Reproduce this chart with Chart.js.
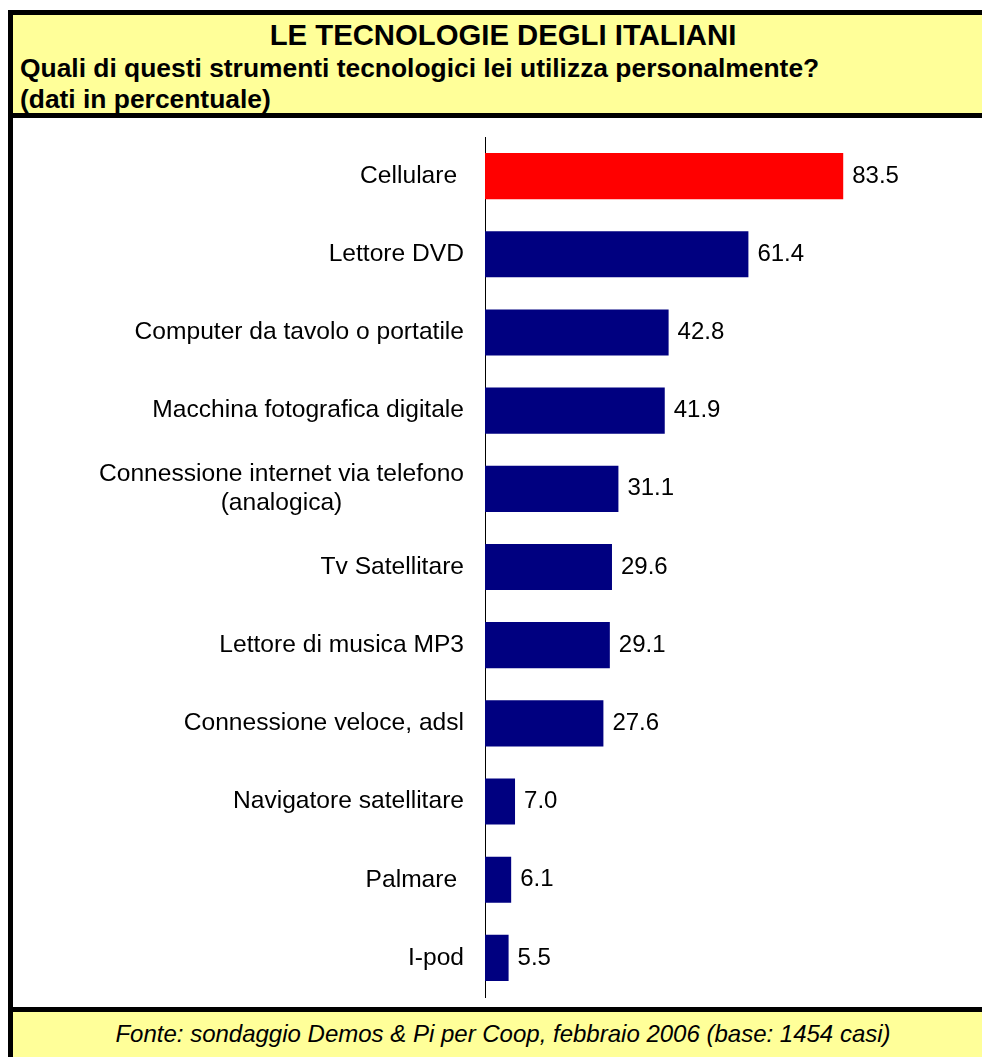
<!DOCTYPE html>
<html>
<head>
<meta charset="utf-8">
<script src="https://cdn.jsdelivr.net/npm/chart.js@4"></script>
<style>
  html, body { margin: 0; padding: 0; background: #ffffff; }
  body { width: 982px; height: 1057px; position: relative; overflow: hidden; font-family: "Liberation Sans", Arial, sans-serif; }
  #header { position: absolute; left: 8px; top: 10px; width: 990px; height: 98px; background: #FFFF99; border: 5px solid #000; }
  #title { position: absolute; left: 0; width: 990px; top: 4px; text-align: center; font-weight: bold; font-size: 29.3px; line-height: 32px; color: #000; }
  #title span { position: relative; left: -5px; }
  .sub { position: absolute; left: 7px; font-weight: bold; font-size: 26.4px; line-height: 30px; color: #000; }
  #sideL { position: absolute; left: 8px; top: 118px; width: 5px; height: 894px; background: #000; }
  #footer { position: absolute; left: 8px; top: 1007px; width: 990px; height: 60px; background: #FFFF99; border-top: 5px solid #000; border-left: 5px solid #000; }
  #foot { position: absolute; left: 8px; width: 990px; top: 1020px; text-align: center; font-style: italic; font-size: 24px; line-height: 28px; color: #000; }
  #chartWrap { position: absolute; left: 13px; top: 118px; width: 969px; height: 889px; }
</style>
</head>
<body>
<div id="header">
  <div id="title"><span>LE TECNOLOGIE DEGLI ITALIANI</span></div>
  <div class="sub" style="top:38px">Quali di questi strumenti tecnologici lei utilizza personalmente?</div>
  <div class="sub" style="top:69px">(dati in percentuale)</div>
</div>
<div id="sideL"></div>
<div id="chartWrap"><canvas id="c" width="969" height="889"></canvas></div>
<div id="footer"></div>
<div id="foot">Fonte: sondaggio Demos &amp; Pi per Coop, febbraio 2006 (base: 1454 casi)</div>
<script>
const categories = [
  "Cellulare ",
  "Lettore DVD",
  "Computer da tavolo o portatile",
  "Macchina fotografica digitale",
  ["Connessione internet via telefono", "(analogica)"],
  "Tv Satellitare",
  "Lettore di musica MP3",
  "Connessione veloce, adsl",
  "Navigatore satellitare",
  "Palmare ",
  "I-pod"
];
const values = [83.5, 61.4, 42.8, 41.9, 31.1, 29.6, 29.1, 27.6, 7.0, 6.1, 5.5];
const barColors = ["#FF0000", "#000080", "#000080", "#000080", "#000080", "#000080", "#000080", "#000080", "#000080", "#000080", "#000080"];

const FONT = '"Liberation Sans", Arial, sans-serif';

const labelPlugin = {
  id: 'customLabels',
  afterDatasetsDraw(chart) {
    const ctx = chart.ctx;
    const y = chart.scales.y;
    const x = chart.scales.x;
    ctx.save();
    ctx.fillStyle = '#000';
    ctx.textBaseline = 'middle';
    const lineH = 29;
    categories.forEach((lab, i) => {
      const cy = y.getPixelForValue(i);
      const lines = Array.isArray(lab) ? lab : [lab];
      ctx.font = '24.6px ' + FONT;
      const widths = lines.map(l => ctx.measureText(l).width);
      const maxW = Math.max(...widths);
      const right = chart.chartArea.left - 21;
      const startY = cy - (lines.length - 1) * lineH / 2;
      ctx.textAlign = 'center';
      lines.forEach((l, k) => {
        ctx.fillText(l, right - maxW / 2, startY + k * lineH);
      });
      // value label
      ctx.font = '24px ' + FONT;
      ctx.textAlign = 'left';
      const xe = x.getPixelForValue(values[i]);
      ctx.fillText(values[i].toFixed(1), xe + 9, cy);
    });
    ctx.restore();
  }
};

new Chart(document.getElementById('c'), {
  type: 'bar',
  data: {
    labels: categories,
    datasets: [{
      data: values,
      backgroundColor: barColors,
      borderWidth: 0,
      categoryPercentage: 1,
      barPercentage: 0.59
    }]
  },
  options: {
    indexAxis: 'y',
    responsive: false,
    animation: false,
    devicePixelRatio: 1,
    layout: { padding: { top: 19, bottom: 10, left: 0, right: 68 } },
    plugins: { legend: { display: false }, tooltip: { enabled: false } },
    scales: {
      x: { display: false, min: 0, max: 100 },
      y: {
        offset: true,
        grid: { display: false, drawTicks: false },
        border: { display: true, color: '#000', width: 1 },
        ticks: { display: false },
        afterFit(scale) { scale.width = 472; }
      }
    }
  },
  plugins: [labelPlugin]
});
</script>
</body>
</html>
